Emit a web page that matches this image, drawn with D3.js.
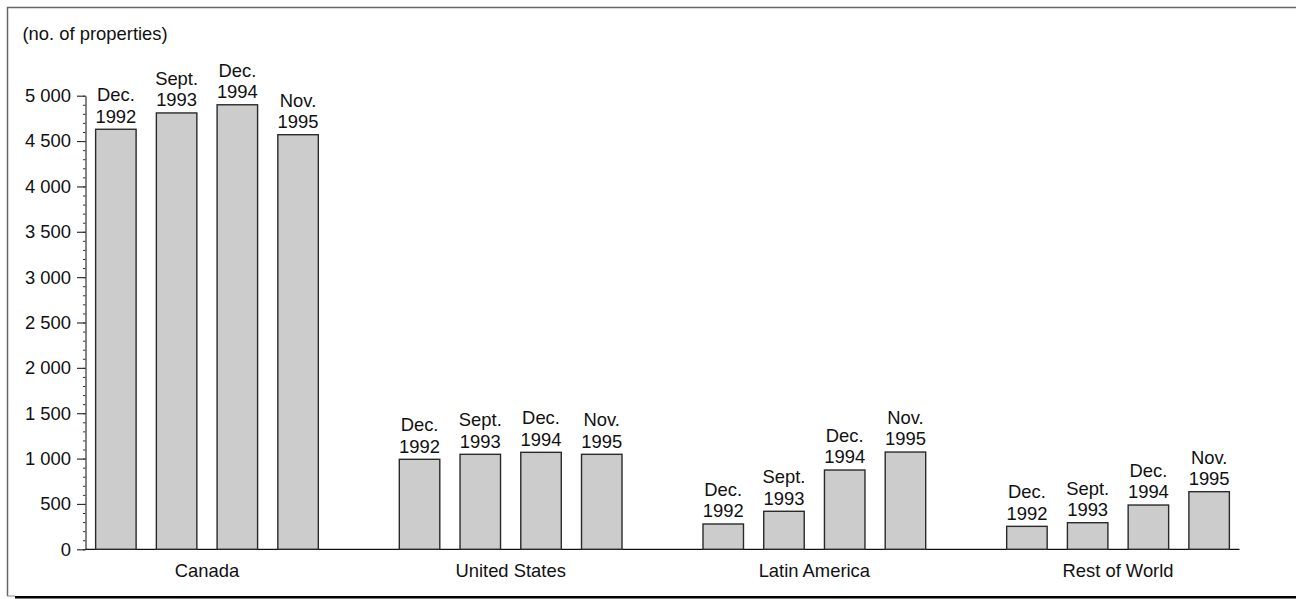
<!DOCTYPE html>
<html>
<head>
<meta charset="utf-8">
<script src="https://cdn.jsdelivr.net/npm/d3@7"></script>
<style>
  body { margin: 0; background: #fff; }
  text { font-family: "Liberation Sans", Arial, sans-serif; fill: #111; }
</style>
</head>
<body>
<div id="chart"></div>
<script>
// Regions and survey dates
const regions = ["Canada", "United States", "Latin America", "Rest of World"];
const periods = [["Dec.", "1992"], ["Sept.", "1993"], ["Dec.", "1994"], ["Nov.", "1995"]];

// Number of properties, one array per region (in period order)
const canada = [4630, 4810, 4900, 4570];
const unitedStates = [992, 1047, 1069, 1047];
const latinAmerica = [279, 419, 874, 1072];
const restOfWorld = [253, 293, 488, 635];

const yTicks = [0, 500, 1000, 1500, 2000, 2500, 3000, 3500, 4000, 4500, 5000];
const yLabel = "(no. of properties)";

const seriesByRegion = [canada, unitedStates, latinAmerica, restOfWorld];

const W = 1296, H = 599;
const FS = "18.4px";
const margin = {top: 95.7, left: 85.5, right: 56.5, bottom: 49.7};
const width = W - margin.left - margin.right,
      height = H - margin.top - margin.bottom;

const svg = d3.select("#chart").append("svg")
    .attr("width", W)
    .attr("height", H);

// Frame with shadowed bottom edge
svg.append("path")
    .attr("d", "M7.5,596 V7.5 H" + W)
    .attr("fill", "none")
    .attr("stroke", "#666")
    .attr("stroke-width", 1.5);
svg.append("line")
    .attr("x1", 7).attr("x2", 15).attr("y1", 596).attr("y2", 596)
    .attr("stroke", "#888").attr("stroke-width", 1);
svg.append("line")
    .attr("x1", 15).attr("x2", W).attr("y1", 597.3).attr("y2", 597.3)
    .attr("stroke", "#000").attr("stroke-width", 2.6);

const g = svg.append("g")
    .attr("transform", "translate(" + margin.left + "," + margin.top + ")");

// Flatten to bars: each region gets 5 slots (4 bars + 1 gap), last gap dropped
const bars = [];
seriesByRegion.forEach((vals, r) => {
    vals.forEach((v, i) => {
        bars.push({region: regions[r], period: periods[i], value: v, slot: r * 5 + i});
    });
});
const nSlots = regions.length * 5 - 1;

const x = d3.scaleBand()
    .domain(d3.range(nSlots))
    .range([0, width])
    .paddingInner(1 / 3)
    .paddingOuter(1 / 6);

const y = d3.scaleLinear()
    .domain([0, 5000])
    .range([height, 0]);

// Minor ticks every 100
g.append("g")
    .call(d3.axisLeft(y).tickValues(d3.range(0, 5001, 100)).tickSize(2.5).tickFormat(""))
    .call(s => s.select(".domain").remove())
    .selectAll("line").attr("stroke", "#333");

// Y axis
const yAxis = g.append("g")
    .call(d3.axisLeft(y)
        .tickValues(yTicks)
        .tickSize(8.5)
        .tickSizeOuter(0)
        .tickPadding(6)
        .tickFormat(d => d3.format(",")(d).replace(",", " ")));
yAxis.select(".domain").attr("stroke", "#333").attr("stroke-width", 1.2);
yAxis.selectAll(".tick line").attr("stroke", "#333").attr("stroke-width", 1.2);
yAxis.selectAll(".tick text")
    .style("font-family", "'Liberation Sans', Arial, sans-serif")
    .style("font-size", FS)
    .attr("fill", "#111");

// X baseline
g.append("line")
    .attr("x1", 0).attr("x2", width)
    .attr("y1", y(0)).attr("y2", y(0))
    .attr("stroke", "#111").attr("stroke-width", 1.3);

// Bars
g.selectAll("rect.bar")
    .data(bars)
    .enter().append("rect")
    .attr("class", "bar")
    .attr("x", d => x(d.slot))
    .attr("width", x.bandwidth())
    .attr("y", d => y(d.value))
    .attr("height", d => y(0) - y(d.value))
    .attr("fill", "#cccccc")
    .attr("stroke", "#2a2a2a")
    .attr("stroke-width", 1.4);

// Bar labels (two lines)
const lab = g.selectAll("text.blabel")
    .data(bars)
    .enter().append("text")
    .attr("class", "blabel")
    .attr("text-anchor", "middle")
    .style("font-size", FS);
lab.append("tspan")
    .attr("x", d => x(d.slot) + x.bandwidth() / 2)
    .attr("y", d => y(d.value) - 28)
    .text(d => d.period[0]);
lab.append("tspan")
    .attr("x", d => x(d.slot) + x.bandwidth() / 2)
    .attr("y", d => y(d.value) - 6.7)
    .text(d => d.period[1]);

// Region labels
g.selectAll("text.rlabel")
    .data(regions)
    .enter().append("text")
    .attr("class", "rlabel")
    .attr("text-anchor", "middle")
    .attr("x", (d, r) => (x(r * 5) + x(r * 5 + 3) + x.bandwidth()) / 2)
    .attr("y", height + 27.4)
    .style("font-size", FS)
    .text(d => d);

// Unit label
svg.append("text")
    .attr("x", 22.5)
    .attr("y", 40)
    .style("font-size", FS)
    .text(yLabel);
</script>
</body>
</html>
